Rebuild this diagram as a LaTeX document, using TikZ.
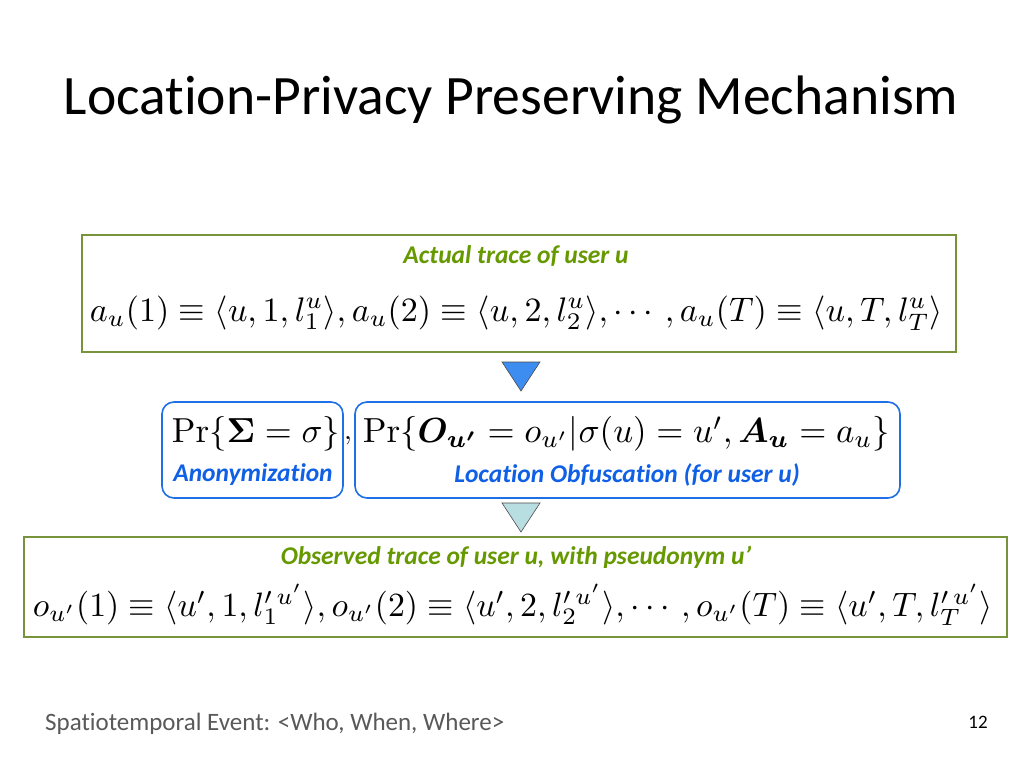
\documentclass[tikz,border=0pt]{standalone}
\usepackage{amsmath,amssymb}
\usepackage[no-math]{fontspec}
\setmainfont{Carlito}[Ligatures=NoCommon]
\usetikzlibrary{positioning}
\definecolor{gbox}{RGB}{119,147,60}
\definecolor{gtext}{RGB}{102,153,0}
\definecolor{bbox}{RGB}{31,111,230}
\definecolor{btext}{RGB}{16,96,230}
\definecolor{tri1}{RGB}{61,140,240}
\definecolor{tri2}{RGB}{185,222,226}
\definecolor{foot}{RGB}{89,89,89}
\tikzset{
  greenbox/.style={draw=gbox, line width=2pt, inner sep=0pt},
  bluebox/.style={draw=bbox, line width=1.6pt, rounded corners=12pt, inner sep=0pt},
  glabel/.style={text=gtext, font=\fontsize{25.5}{30}\selectfont\bfseries\itshape, inner sep=0pt},
  blabel/.style={text=btext, font=\fontsize{25.5}{30}\selectfont\bfseries\itshape, inner sep=0pt},
  formula/.style={inner sep=0pt},
}
\begin{document}
\begin{tikzpicture}[x=1pt,y=-1pt]
\useasboundingbox[fill=white] (0,0) rectangle (1024,768);
% title
\node[inner sep=0pt, font=\fontsize{55.6}{66}\selectfont] (title) at (511,100) {Location-Privacy Preserving Mechanism};
% top box
\draw[greenbox] (82,235) rectangle (956,352);
\node[glabel] (actual) at (516,256) {Actual trace of user u};
\node[formula] (fa) at (516.5,313) {\resizebox{853pt}{!}{$a_u(1) \equiv \langle u, 1, l_1^u\rangle, a_u(2) \equiv \langle u,2,l_2^u\rangle, \cdots, a_u(T) \equiv \langle u, T, l_T^u\rangle$}};
% triangle 1
\draw[fill=tri1, draw=black!70, line width=0.6pt] (502,362) -- (540,362) -- (521,391) -- cycle;
% blue boxes
\draw[bluebox] (162,402) rectangle (343,498);
\draw[bluebox] (355,402) rectangle (900,498);
\node[formula] (fan) at (256,434) {\resizebox{168pt}{!}{$\Pr\{\boldsymbol{\Sigma} = \sigma\}$}};
\node[formula] (comma) at (348,441) {\scalebox{2.8}{$,$}};
\node[formula] (fob) at (626.5,434) {\resizebox{527pt}{!}{$\Pr\{\boldsymbol{O_{u'}} = o_{u'} | \sigma(u) = u', \boldsymbol{A_u} = a_u\}$}};
\node[blabel] (anon) at (253,475) {Anonymization};
\node[blabel] (obf) at (627,475) {Location Obfuscation (for user u)};
% triangle 2
\draw[fill=tri2, draw=black!70, line width=0.6pt] (502,503) -- (540,503) -- (521,532) -- cycle;
% bottom box
\draw[greenbox] (24,537) rectangle (1007,637);
\node[glabel] (observed) at (516,557) {Observed trace of user u, with pseudonym u’};
\node[formula] (fo) at (513,605) {\resizebox{960pt}{!}{$o_{u'}(1) \equiv \langle u', 1, l_1^{\prime\,u'}\rangle, o_{u'}(2) \equiv \langle u',2,l_2^{\prime\,u'}\rangle, \cdots, o_{u'}(T) \equiv \langle u', T, l_T^{\prime\,u'}\rangle$}};
% footer
\node[anchor=west, inner sep=0pt, text=foot, font=\fontsize{25}{30}\selectfont] (footer) at (45,724) {Spatiotemporal Event: <Who, When, Where>};
\node[inner sep=0pt, text=black, font=\fontsize{19}{23}\selectfont] (page) at (978,722) {12};
\end{tikzpicture}
\end{document}
